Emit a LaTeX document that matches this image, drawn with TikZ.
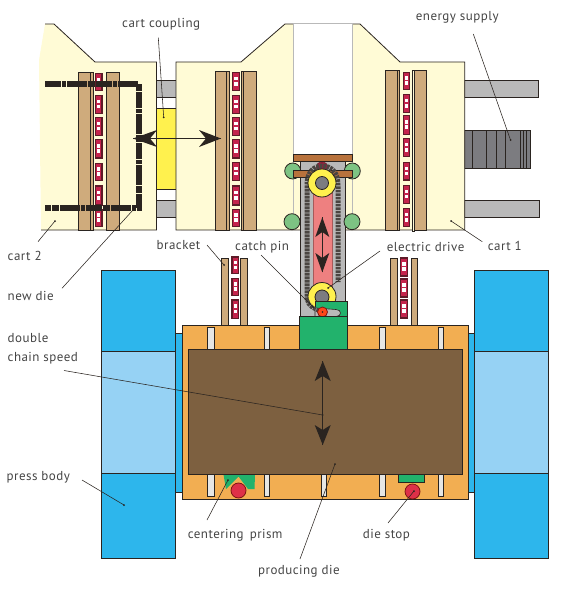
\documentclass[tikz,border=0pt]{standalone}
\usepackage{fontspec}
\setmainfont[LetterSpace=3.5]{PT Sans}
\definecolor{cartc}{HTML}{FFFBD6}
\definecolor{tanc}{HTML}{CFAB7C}
\definecolor{inkc}{HTML}{2A2420}
\definecolor{linkr}{HTML}{C4244C}
\definecolor{linkd}{HTML}{5E1B28}
\definecolor{grayb}{HTML}{B9B9B9}
\definecolor{grayd}{HTML}{7C7C80}
\definecolor{yelc}{HTML}{FFF14E}
\definecolor{blued}{HTML}{2DB6EC}
\definecolor{bluel}{HTML}{96D2F4}
\definecolor{orgc}{HTML}{F2AE52}
\definecolor{diec}{HTML}{7D6040}
\definecolor{greenc}{HTML}{22B26C}
\definecolor{greenl}{HTML}{7DC383}
\definecolor{brownb}{HTML}{B8723C}
\definecolor{pinkc}{HTML}{EE8080}
\definecolor{redc}{HTML}{DE3048}
\definecolor{slotc}{HTML}{E6E6E4}
\definecolor{textc}{HTML}{444444}
\tikzset{
  x=1pt,y=-1pt,
  part/.style={draw=inkc,line width=0.8pt},
  label/.style={anchor=base west,inner sep=0pt,text=textc,font=\fontsize{13}{15}\selectfont},
  leader/.style={draw=inkc,line width=0.55pt},
  tipdot/.style={fill=inkc},
  diechain/.style={draw=inkc,line width=6pt,dash pattern=on 16pt off 1pt on 4pt off 1pt on 20pt off 1pt on 7pt off 1pt},
  bigchain/.style={draw=inkc!85!white,line width=5pt,dash pattern=on 2.6pt off 0.9pt},
  head/.style={fill=inkc,draw=none},
}
\newcommand{\railA}[3]{%
  \foreach \ya/\yb in {#3}{
    \filldraw[fill=linkr,draw=linkd,line width=1.3pt] (#1,\ya) rectangle (#2,\yb);
    \fill[white] ({#1+1.6},{\ya+(\yb-\ya)*0.24}) rectangle ({#2-1.6},{\ya+(\yb-\ya)*0.44});
    \fill[white] ({#1+1.6},{\ya+(\yb-\ya)*0.52}) rectangle ({#2-1.6},{\ya+(\yb-\ya)*0.72});
  }}
\newcommand{\slotbox}[4]{\filldraw[fill=slotc,draw=inkc,line width=0.5pt] (#1,#3) rectangle (#2,#4);}
\begin{document}
\begin{tikzpicture}
\useasboundingbox (0,0) rectangle (561,594);
% gray guide bars
\filldraw[part,fill=grayb] (156.5,80) rectangle (176,97.3);
\filldraw[part,fill=grayb] (156.5,200) rectangle (176,217.7);
\filldraw[part,fill=grayb] (464.7,80) rectangle (538.3,97.3);
\filldraw[part,fill=grayb] (464.7,200) rectangle (539.5,217.5);
\filldraw[part,fill=grayd] (464.7,130) rectangle (530.7,168.3);
\foreach \x in {472.3,486.3,496.7,505.7,520.7,523.3,526.7}
  \draw[inkc,line width=0.6pt] (\x,130) -- (\x,168.3);
\filldraw[part,fill=yelc] (156.5,108.3) rectangle (176,189.3);
% cart 2
\fill[cartc] (45,24) -- (54,24) -- (95,62) -- (156.5,62) -- (156.5,230) -- (41,230) -- (39,60) -- cycle;
\draw[part] (45,24) -- (54,24) -- (95,62) -- (156.5,62) -- (156.5,230) -- (41,230);
% cart 1
\filldraw[part,fill=cartc] (176,230) -- (176,62) -- (241,62) -- (285,24) -- (360,24) -- (400,62) -- (464.7,62) -- (464.7,230) -- cycle;
% window
\filldraw[draw=grayb,line width=1pt,fill=white] (293.5,24) rectangle (352,154);
\draw[grayb,line width=1pt] (293.5,154) -- (293.5,229) (352,154) -- (352,229);
% rails on carts
\filldraw[part,fill=tanc] (78.3,72) rectangle (90.7,230);
\filldraw[part,fill=tanc] (90.7,72) rectangle (93.3,230);
\filldraw[part,fill=tanc] (106,72) rectangle (119.7,230);
\filldraw[part,fill=tanc] (215.3,71) rectangle (226.7,230);
\filldraw[part,fill=tanc] (226.7,71) rectangle (229.3,230);
\filldraw[part,fill=tanc] (241.7,71) rectangle (243.7,230);
\filldraw[part,fill=tanc] (243.7,71) rectangle (256.7,230);
\filldraw[part,fill=tanc] (385.3,70) rectangle (397.3,230);
\filldraw[part,fill=tanc] (397.3,70) rectangle (399.3,230);
\filldraw[part,fill=cartc] (412.3,70) rectangle (414.3,231);
\filldraw[part,fill=tanc] (414.3,70) rectangle (426.3,230);
\railA{95.5}{102}{73.5/90.7,95.3/113.3,117.3/135.3,139.3/158,163.3/180.3,186/205,209.3/226.7}
\railA{232.5}{239.5}{72.3/90.7,95.3/113.3,117.3/135.3,139.3/158,162.3/180.3,186/205,209.3/226.7}
\railA{403.3}{409.3}{72.3/89.3,94.3/112.7,115.7/134.3,138.3/156.7,162.3/180,185.3/203.3,208.3/226.7}
% die outline (new die)
\draw[diechain] (45,84) -- (139,84) -- (139,207.7) -- (45,207.7);
% mounting for chain drive
\fill[grayb] (300.5,161) rectangle (345.5,318);
\draw[inkc,line width=0.6pt] (300.5,161) -- (300.5,318) (345.5,161) -- (345.5,305);
\filldraw[part,fill=greenl] (292.7,171) circle (8);
\filldraw[part,fill=greenl] (352.3,171) circle (8);
\filldraw[part,fill=greenl] (292,221.7) circle (8);
\filldraw[part,fill=greenl] (352,221.7) circle (8);
\filldraw[part,fill=brownb] (293.5,154) rectangle (352,161);
\filldraw[part,fill=brownb] (293.5,170.5) rectangle (352,177);
\fill[grayb] (308,162) rectangle (337,170);
\filldraw[fill=linkr!80!black,draw=linkd] (322,167) ellipse (6 and 5);
\filldraw[fill=pinkc,draw=pinkc!70!black,line width=0.4pt] (313,180) rectangle (332,292);
% chain
\draw[bigchain] (307,300) -- (307,185) .. controls (307,172) and (314,166) .. (322,166) .. controls (331,166) and (338,172) .. (338,185) -- (338,282);
\filldraw[part,fill=yelc] (322,183) circle (14);
\filldraw[part,fill=grayd] (322,183) circle (6.5);
\filldraw[part,fill=yelc] (322,296.5) circle (14);
\filldraw[part,fill=grayd] (322,297) circle (7);
% green carrier, upper part with slot
\filldraw[part,fill=greenc] (315,301) -- (347.5,301) -- (347.5,317) -- (315,317) -- cycle;
\filldraw[fill=grayb,draw=inkc,line width=0.6pt] (315,308) -- (336,309.5) .. controls (342,309.5) and (342,316.5) .. (336,316.5) -- (315,316.5) -- cycle;
\draw[bigchain,line width=4pt] (307,300) .. controls (308,306) and (314,309) .. (322,312);
\coordinate (pinc) at (322.5,312);
\filldraw[fill=red!60!orange!90!white,draw=inkc!60!red,line width=0.8pt] (pinc) circle (5);
\fill[inkc] (pinc) circle (0.9);
% arrow on pink
\coordinate (pinkt) at (322.3,217.3); \coordinate (pinkb) at (322.3,272.3);
\draw[inkc,line width=0.7pt] (pinkt) -- (pinkb);
\fill[head] (pinkt) -- (329.3,237) -- (322.3,232) -- (315.3,237) -- cycle;
\fill[head] (pinkb) -- (329.3,253) -- (322.3,258) -- (315.3,253) -- cycle;
% press body
\filldraw[part,fill=blued] (175.5,333.5) rectangle (182.5,492);
\filldraw[part,fill=blued] (468.3,333.5) rectangle (474.3,492);
\filldraw[part,fill=blued] (101.7,270.3) rectangle (175.5,351);
\filldraw[part,fill=bluel] (101.7,351) rectangle (175.5,473.3);
\filldraw[part,fill=blued] (101.7,473.3) rectangle (175.5,558.3);
\filldraw[part,fill=blued] (474.3,270.3) rectangle (548.5,351);
\filldraw[part,fill=bluel] (474.3,351) rectangle (548.5,473.3);
\filldraw[part,fill=blued] (474.3,473.3) rectangle (548.5,558.3);
% brackets
\filldraw[part,fill=tanc] (221.3,258.3) rectangle (228,326);
\filldraw[part,fill=tanc] (240.3,258.3) rectangle (247.3,326);
\filldraw[part,fill=tanc] (390,258.3) rectangle (397.7,326);
\filldraw[part,fill=tanc] (411.3,258.3) rectangle (417.7,326);
\railA{232}{238.8}{257/273.5,278.3/295.7,300/318.7}
\railA{400.5}{407.5}{258/276,279/297,300/318}
% table
\fill[orgc] (182.7,325.3) rectangle (299.5,499);
\fill[orgc] (347.5,325.3) rectangle (468.3,499);
\fill[orgc] (299.5,349) rectangle (347.5,499);
\draw[part] (299.5,325.3) -- (182.7,325.3) -- (182.7,499) -- (468.3,499) -- (468.3,325.3) -- (347.5,325.3);
\slotbox{207.3}{214.7}{327}{349}
\slotbox{264.3}{269.7}{327}{349}
\slotbox{379.3}{385.7}{327}{349}
\slotbox{438.3}{443.7}{327}{349}
\slotbox{207.3}{214}{474}{496}
\slotbox{264.3}{269.7}{474}{496}
\slotbox{321.3}{326.7}{474}{496}
\slotbox{379.3}{385.7}{474}{496}
\slotbox{438.3}{443.7}{474}{496}
\fill[greenc] (223.5,474.5) -- (255,474.5) -- (254.5,489) -- (248,489) -- (238.5,476.5) -- (226,489) -- cycle;
\filldraw[part,fill=greenc] (398.3,474.5) rectangle (424.3,482.5);
\filldraw[fill=redc,draw=inkc!60!red,line width=0.8pt] (238.5,490.5) circle (7.5);
\filldraw[fill=redc,draw=inkc!60!red,line width=0.8pt] (412.5,491.5) circle (7.5);
\filldraw[part,fill=diec] (188.4,349.3) rectangle (462.7,474.4);
\filldraw[part,fill=greenc] (299.5,316.7) rectangle (347.5,349);
% die arrow
\coordinate (diet) at (322.7,361); \coordinate (dieb) at (322.7,445);
\draw[inkc,line width=0.7pt] (diet) -- (dieb);
\fill[head] (diet) -- (330.7,381) -- (322.7,376) -- (314.7,381) -- cycle;
\fill[head] (dieb) -- (330.7,425) -- (322.7,430) -- (314.7,425) -- cycle;
% cart arrow
\coordinate (cartl) at (133,138.5); \coordinate (cartr) at (221,138.5);
\draw[inkc,line width=0.7pt] (cartl) -- (cartr);
\fill[head] (cartl) -- (157,130) -- (150,138.5) -- (157,147) -- cycle;
\fill[head] (cartr) -- (199,130) -- (206,138.5) -- (199,147) -- cycle;
% labels
\node[label] (lcoup) at (122,28) {cart coupling};
\node[label] (lcart2) at (7.5,260.5) {cart 2};
\node[label] (lnew) at (7.5,300.5) {new die};
\node[label] (lbrack) at (156.5,249.5) {bracket};
\node[label] (lcatch) at (235,250.5) {catch pin};
\node[label] (lelec) at (386.7,251.5) {electric drive};
\node[label] (lcart1) at (487.7,250.5) {cart 1};
\node[label] (lenergy) at (415.7,20.5) {energy supply};
\node[label] (ldouble) at (7.5,342.5) {double};
\node[label] (lchain) at (7.5,361.5) {chain speed};
\node[label] (lpress) at (6.5,480.5) {press body};
\node[label] (lprism) at (187.7,538.5) {centering\, prism};
\node[label] (lstop) at (362.7,538.5) {die stop};
\node[label] (lprod) at (258,574.5) {producing die};
% leaders
\coordinate (a1) at (158.3,37.7); \coordinate (b1) at (163.7,117.3);
\coordinate (a2) at (38,241.7);   \coordinate (b2) at (55,221);
\coordinate (a3) at (62,288.3);   \coordinate (b3) at (133,210);
\coordinate (a4) at (207,245);    \coordinate (b4) at (224,265);
\coordinate (a5) at (261,255);    \coordinate (b5) at (313,307);
\coordinate (a6) at (380,251);    \coordinate (b6) at (328,288);
\coordinate (a7) at (482.3,241.7);\coordinate (b7) at (451,221);
\coordinate (a8) at (473.3,34);   \coordinate (b8) at (510.5,140);
\coordinate (a9) at (64,370.5);   \coordinate (b9) at (322.7,415);
\coordinate (a10) at (82,480);    \coordinate (b10) at (124,505);
\coordinate (a11) at (207,520);   \coordinate (b11) at (228,480);
\coordinate (a12) at (388,523);   \coordinate (b12) at (414,491);
\coordinate (a13) at (300,559);   \coordinate (b13) at (335,464);
\foreach \i in {1,...,13}{
  \draw[leader] (a\i) -- (b\i);
  \fill[tipdot] (b\i) circle (1);
}
\end{tikzpicture}
\end{document}
